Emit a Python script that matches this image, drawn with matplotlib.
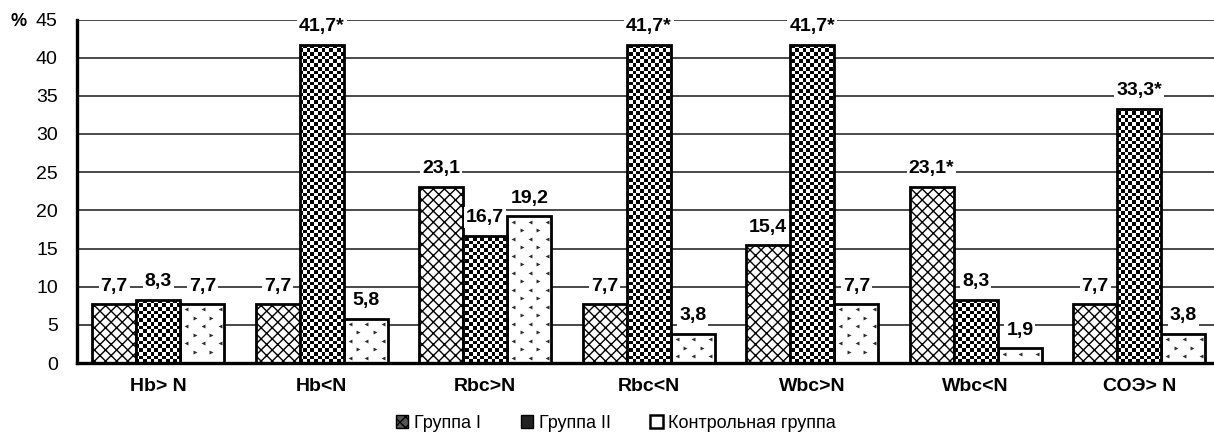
import numpy as np
import matplotlib
matplotlib.use("Agg")
import matplotlib.pyplot as plt
from matplotlib.patches import Patch

plt.rcParams['font.family'] = ['Liberation Sans', 'DejaVu Sans']
plt.rcParams['hatch.linewidth'] = 1.0

categories = ['Hb> N', 'Hb<N', 'Rbc>N', 'Rbc<N', 'Wbc>N', 'Wbc<N', 'СОЭ> N']
group1 = [7.7, 7.7, 23.1, 7.7, 15.4, 23.1, 7.7]
group2 = [8.3, 41.7, 16.7, 41.7, 41.7, 8.3, 33.3]
control = [7.7, 5.8, 19.2, 3.8, 7.7, 1.9, 3.8]
labels1 = ['7,7', '7,7', '23,1', '7,7', '15,4', '23,1*', '7,7']
labels2 = ['8,3', '41,7*', '16,7', '41,7*', '41,7*', '8,3', '33,3*']
labels3 = ['7,7', '5,8', '19,2', '3,8', '7,7', '1,9', '3,8']
series_names = ['Группа I', 'Группа II', 'Контрольная группа']
yticks = [0, 5, 10, 15, 20, 25, 30, 35, 40, 45]

W, H = 1214, 437
fig = plt.figure(figsize=(W / 100, H / 100), dpi=100)
left_px, right_px = 76.5, 76.5 + 7 * 163.5
bottom_px, top_px = 363, 19.5
ax = fig.add_axes([left_px / W, (H - bottom_px) / H,
                   (right_px - left_px) / W, (bottom_px - top_px) / H])

x = np.arange(len(categories))
bw = 0.27
ax.set_xlim(-0.5, 6.5)
ax.set_ylim(0, 45)

# gridlines
ax.set_yticks(yticks)
ax.yaxis.grid(True, color='#2a2a2a', linewidth=1.2)
ax.set_axisbelow(True)

edge_lw = 2.0

# Group I: cross hatch
ax.bar(x - bw, group1, bw, facecolor='white', edgecolor='black',
       hatch='xxx', linewidth=edge_lw, zorder=2)

# Group II: checkerboard fill
bars2 = ax.bar(x, group2, bw, facecolor='white', edgecolor='black',
               linewidth=0, zorder=2)
cell = 3.7
ncols = int(round((right_px - left_px) / cell))
nrows = int(round((bottom_px - top_px) / cell))
checker = (np.add.outer(np.arange(nrows), np.arange(ncols)) % 2).astype(float)
for b in bars2:
    im = ax.imshow(checker, extent=(-0.5, 6.5, 0, 45), aspect='auto',
                   interpolation='nearest', cmap='gray', vmin=0, vmax=1,
                   zorder=2.2)
    im.set_clip_path(b)
ax.bar(x, group2, bw, facecolor='none', edgecolor='black',
       linewidth=edge_lw, zorder=3)

# Control: sparse chevron pattern
bars3 = ax.bar(x + bw, control, bw, facecolor='white', edgecolor='black',
               linewidth=edge_lw, zorder=2)
px_per_x = 163.5
px_per_y = (bottom_px - top_px) / 45
dx = 16.7 / px_per_x
dy = 17.0 / px_per_y
mx = 4.0 / px_per_x
my = 3.5 / px_per_y
for b in bars3:
    x0, x1 = b.get_x(), b.get_x() + b.get_width()
    y1 = b.get_height()
    for marker, ox, oy in (('<', 0.35 * dx, 0.3 * dy), ('>', 0.85 * dx, 0.8 * dy)):
        xs = np.arange(x0 + ox, x1 - mx, dx)
        ys = np.arange(y1 - oy, my, -dy)
        if len(xs) and len(ys):
            gx, gy = np.meshgrid(xs, ys)
            ax.scatter(gx.ravel(), gy.ravel(), marker=marker, s=8,
                       color='#2a2a2a', linewidths=0, zorder=2.3)

# value labels
off = 18 * 72 / 100
for vals, labs, shift in ((group1, labels1, -bw), (group2, labels2, 0), (control, labels3, bw)):
    for xi, v, t in zip(x, vals, labs):
        ax.annotate(t, (xi + shift, v), xytext=(0, off), textcoords='offset points',
                    ha='center', va='center', fontsize=14, fontweight='bold',
                    zorder=5,
                    bbox=dict(boxstyle='square,pad=0.1', fc='white', ec='none'))

# axes styling
for s in ('top', 'right'):
    ax.spines[s].set_visible(False)
ax.spines['left'].set_linewidth(2.4)
ax.spines['bottom'].set_linewidth(2.4)
ax.spines['left'].set_zorder(4)
ax.spines['bottom'].set_zorder(4)
ax.set_xticks(x)
ax.set_xticklabels(categories, fontsize=14, fontweight='bold')
ax.tick_params(axis='x', length=0, pad=11)
ax.tick_params(axis='y', length=0, pad=13.5, labelsize=14)

fig.text(19 / W, 1 - 22 / H, '%', ha='center', va='center',
         fontsize=13, fontweight='bold')

handles = [
    Patch(facecolor='#555555', edgecolor='black', hatch='xxx', linewidth=1.0),
    Patch(facecolor='#222222', edgecolor='black', linewidth=1.0),
    Patch(facecolor='white', edgecolor='black', linewidth=1.8),
]
fig.legend(handles, series_names, loc='center', ncol=3,
           bbox_to_anchor=(616 / W, 1 - 423 / H), frameon=False,
           fontsize=13, handlelength=0.7, handleheight=0.7,
           handletextpad=0.3, columnspacing=2.2)

fig.savefig('out.png', dpi=100)
